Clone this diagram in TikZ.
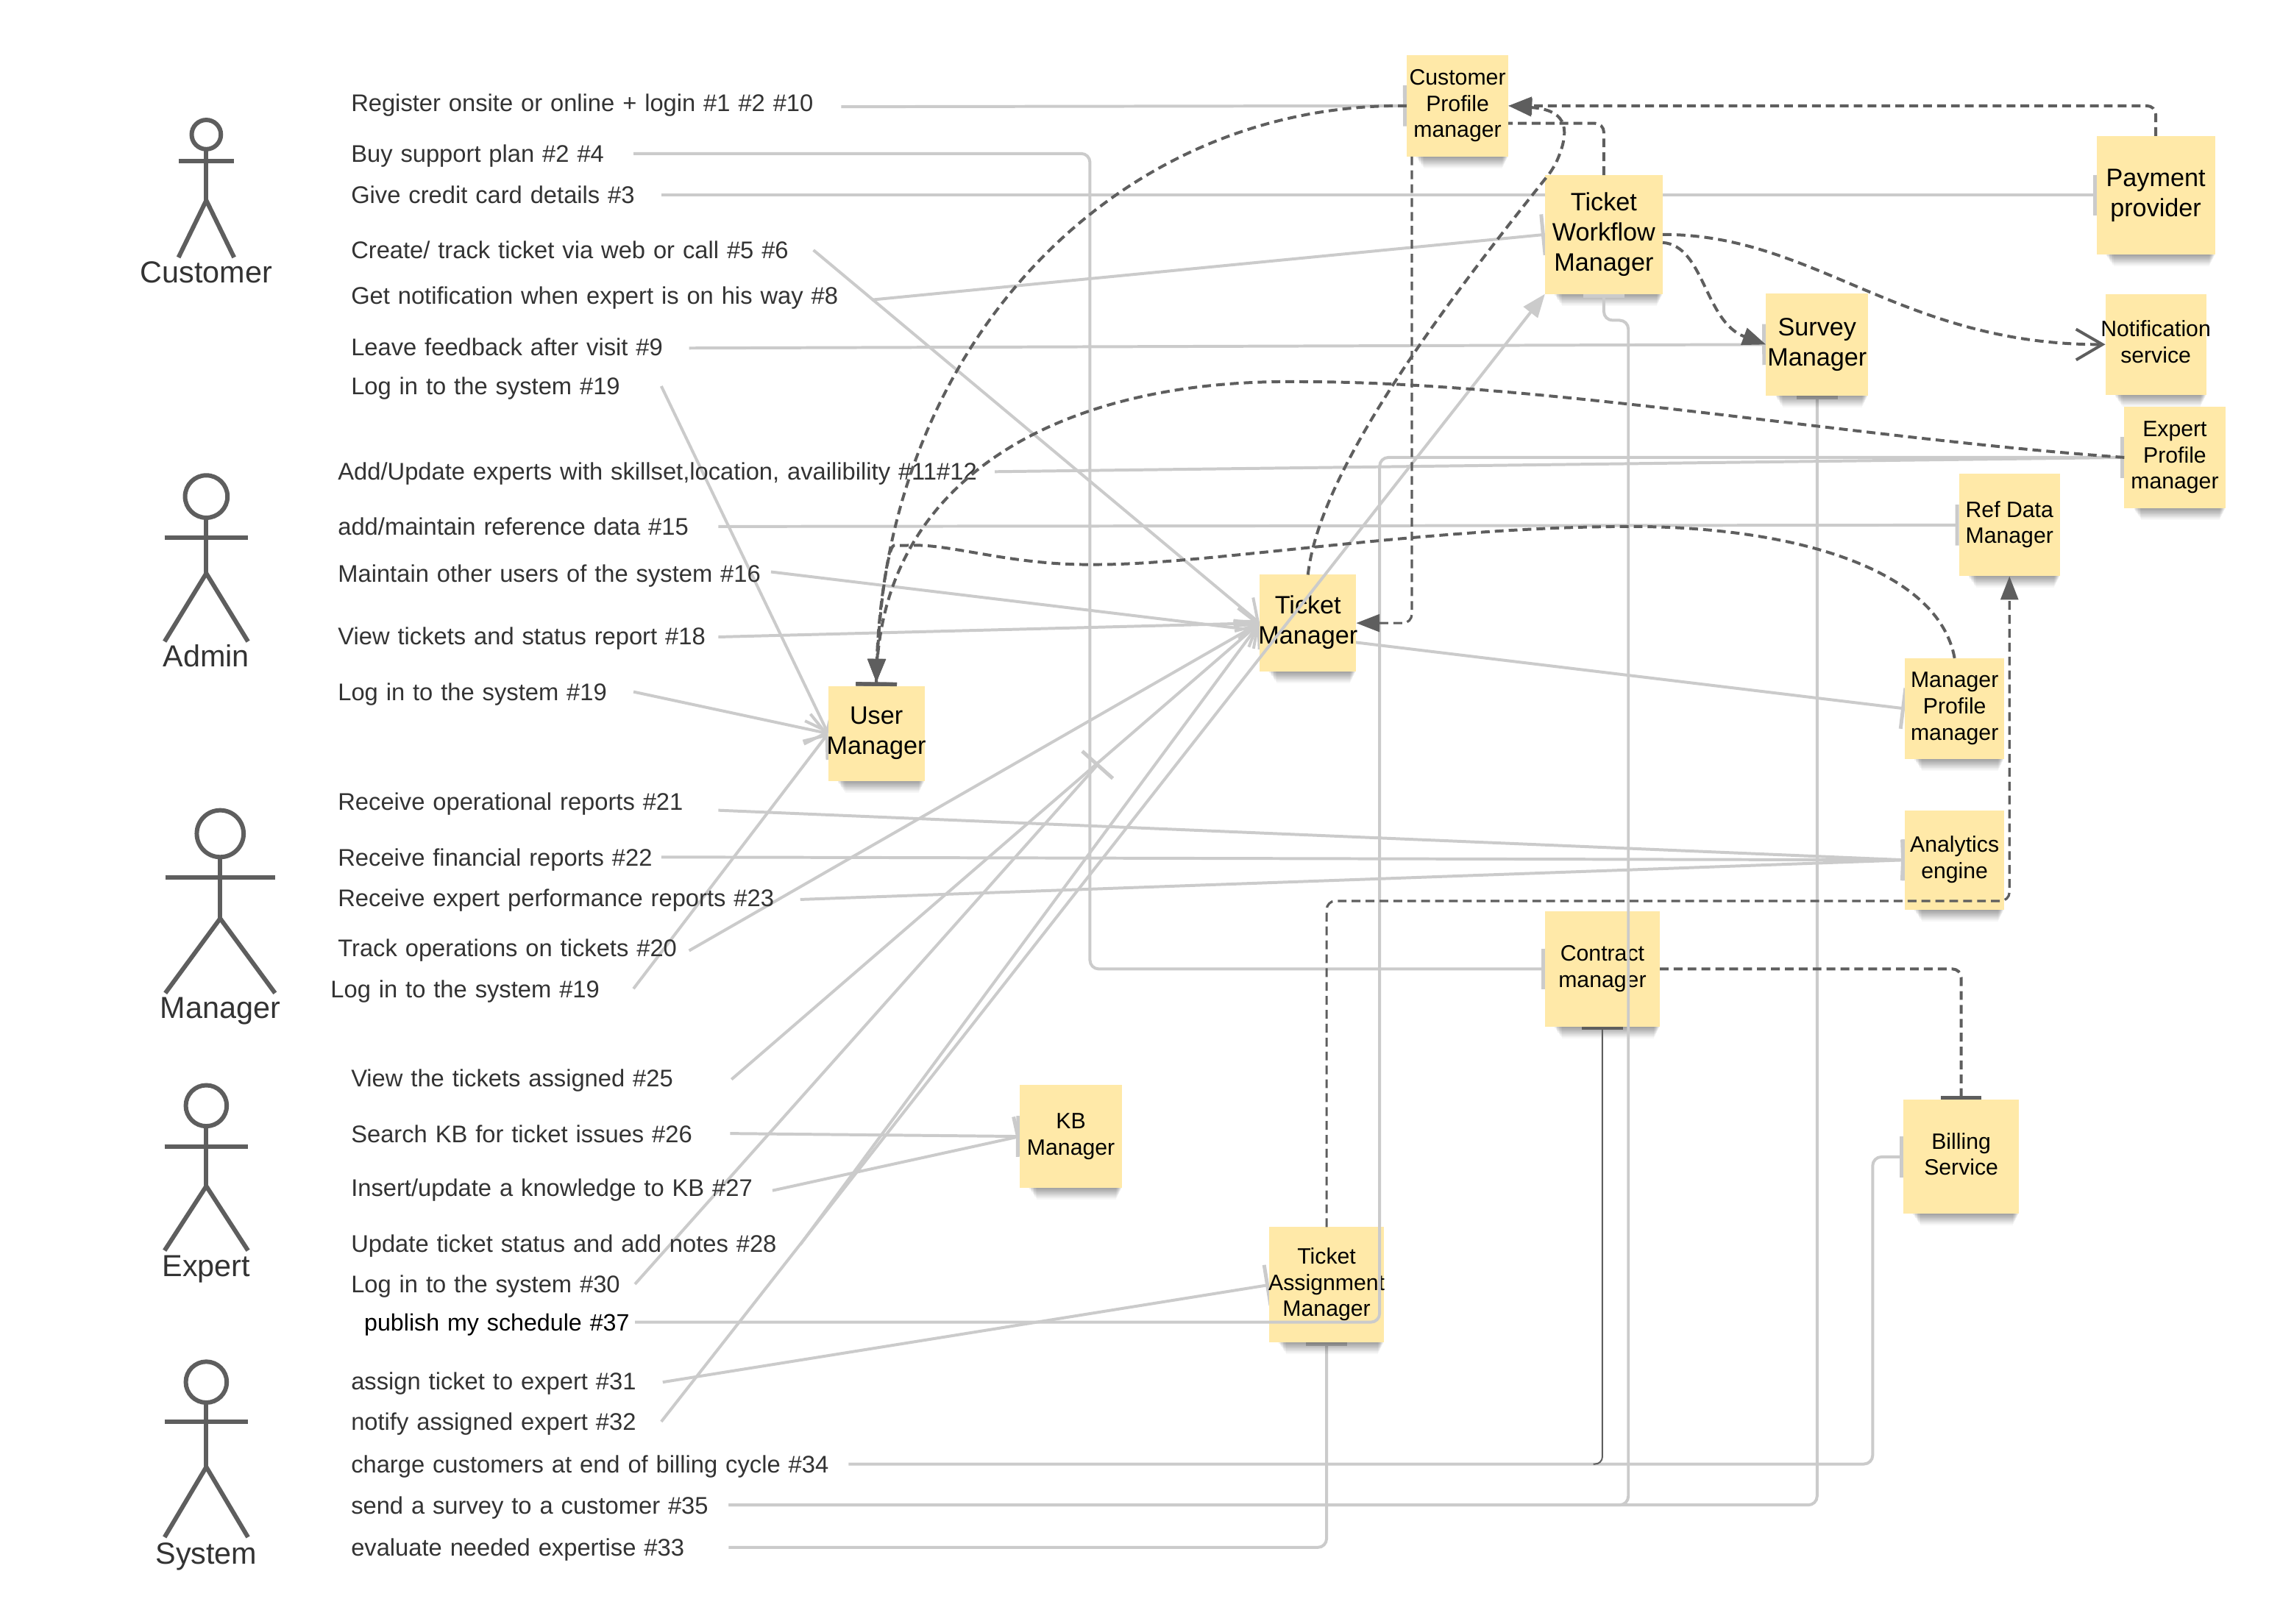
\documentclass[tikz,border=0pt]{standalone}
\usepackage{fontspec}
\setmainfont{Liberation Sans}
\usetikzlibrary{arrows.meta}
\pgfdeclarelayer{bgl}
\pgfsetlayers{bgl,main}
\definecolor{stickyc}{HTML}{FFE9A8}
\definecolor{greyc}{HTML}{CBCBCB}
\definecolor{darkc}{HTML}{5E5E5E}
\definecolor{textc}{HTML}{333333}
\tikzset{
  lab/.style={inner sep=0pt,outer sep=0pt,anchor=west,align=left,text=textc,font=\fontsize{16.45}{20}\selectfont},
  actorlabel/.style={inner sep=0pt,anchor=base,text=textc,font=\fontsize{20.8}{24}\selectfont},
  sticky/.style={fill=stickyc,inner sep=0pt,outer sep=0pt,text=black},
  bigtext/.style={font=\fontsize{17.2}{20.6}\selectfont},
  smalltext/.style={font=\fontsize{15.2}{18}\selectfont},
  figure/.style={draw=darkc,line width=3pt},
  gline/.style={draw=greyc,line width=2pt,rounded corners=6pt},
  dline/.style={draw=darkc,line width=2pt,rounded corners=6pt,dash pattern=on 6pt off 3.5pt},
  thindash/.style={draw=darkc,line width=1.6pt,rounded corners=6pt,dash pattern=on 6pt off 3.5pt},
  gbar/.style={-{Bar[width=28pt,line width=2.5pt]}},
  gopen/.style={-{Straight Barb[length=13pt,width=21pt,line width=2pt]}},
  gfill/.style={-{Triangle[length=16pt,width=12pt]}},
  dfill/.style={-{Triangle[length=16pt,width=12pt]}},
  dfillbar/.style={-{Triangle[length=16pt,width=12pt,sep=0pt] Bar[width=28pt,line width=2.5pt]}},
  dbar/.style={-{Bar[width=28pt,line width=2.5pt]}},
  dopen/.style={-{Straight Barb[length=18pt,width=21pt,line width=2pt]}},
}
% name, x1, y1, x2, y2, text style, text
\newcommand{\stk}[7]{%
  \foreach \d/\o in {8/.03,7/.04,6/.05,5/.05,4/.06,3/.06,2/.06,1/.06}{%
    \fill[black,opacity=\o] (#2+6+\d*.7,#5) rectangle (#4-\d*.5,#5+\d);
  }%
  \pgfmathsetmacro\stkw{#4-#2}\pgfmathsetmacro\stkh{#5-#3}%
  \node[sticky,#6,minimum width=\stkw pt,minimum height=\stkh pt] (#1) at ({(#2+#4)/2},{(#3+#5)/2})
    {\hbox to \stkw pt{\hss\begin{tabular}{@{}c@{}}#7\end{tabular}\hss}};%
}
% name, x, y, connector start x, connector start y, text
\newcommand{\tasklabel}[6]{%
  \pgfmathsetmacro\lw{#4-#2}\pgfmathsetmacro\lh{14+#3+6-#5}\pgfmathsetmacro\ld{14-(#3+6-#5)}%
  \node[lab,text width=\lw pt,text height=\lh pt,text depth=\ld pt] (#1) at (#2,#5) {\mbox{#6}};%
}
% cx, head cy, r, arm y, arm half width, hip y, foot y
\newcommand{\actorfig}[7]{%
  \draw[figure] (#1,#2) circle (#3);
  \draw[figure] (#1,#2+#3) -- (#1,#6);
  \draw[figure] (#1-#5,#4) -- (#1+#5,#4);
  \draw[figure] (#1-#5,#7) -- (#1,#6) -- (#1+#5,#7);
}
\begin{document}
\begin{tikzpicture}[x=1pt,y=-1pt]
\useasboundingbox (0,0) rectangle (1568,1109.9);
\begin{pgfonlayer}{bgl}
\fill[white] (0,0) rectangle (1568,1109.9);
\end{pgfonlayer}

% actors
\actorfig{141}{92}{10}{110}{19}{137}{176}
\node[actorlabel] (acust) at (141,193.5) {Customer};
\actorfig{141}{339.5}{14.5}{367.7}{28.5}{392}{438.6}
\node[actorlabel] (aadm) at (141,456) {Admin};
\actorfig{150.5}{570}{16}{600}{37.5}{628}{679}
\node[actorlabel] (amgr) at (150.5,696.3) {Manager};
\actorfig{141}{756}{14}{784}{28.5}{811}{855}
\node[actorlabel] (aexp) at (141,873) {Expert};
\actorfig{141}{945}{14}{972}{28.5}{1003}{1051}
\node[actorlabel] (asys) at (141,1069.3) {System};

% labels
\tasklabel{l1}{240}{70}{575}{73}{Register onsite or online + login \#1 \#2 \#10}
\tasklabel{l2}{240}{105}{433}{105}{Buy support plan \#2 \#4}
\tasklabel{l3}{240}{133}{452}{133.5}{Give credit card details \#3}
\tasklabel{l4}{240}{171}{556}{171}{Create/ track ticket via web or call \#5 \#6}
\tasklabel{l5}{240}{202}{596}{205}{Get notification when expert is on his way \#8}
\tasklabel{l6}{240}{237}{471}{238}{Leave feedback after visit \#9}
\tasklabel{l7}{240}{264}{452}{264}{Log in to the system \#19}
\tasklabel{l8}{231}{322}{680}{322.5}{Add/Update experts with skillset,location, availibility \#11\#12}
\tasklabel{l9}{231}{360}{491}{360}{add/maintain reference data \#15}
\tasklabel{l10}{231}{392}{527}{391}{Maintain other users of the system \#16}
\tasklabel{l11}{231}{435}{491}{435.5}{View tickets and status report \#18}
\tasklabel{l12}{231}{473}{433}{473}{Log in to the system \#19}
\tasklabel{l13}{231}{548}{491}{554}{Receive operational reports \#21}
\tasklabel{l14}{231}{586}{452}{586}{Receive financial reports \#22}
\tasklabel{l15}{231}{614}{547}{615}{Receive expert performance reports \#23}
\tasklabel{l16}{231}{648}{471}{650}{Track operations on tickets \#20}
\tasklabel{l17}{226}{676}{433}{676}{Log in to the system \#19}
\tasklabel{l18}{240}{737}{500}{738}{View the tickets assigned \#25}
\tasklabel{l19}{240}{775}{499}{775}{Search KB for ticket issues \#26}
\tasklabel{l20}{240}{812}{528}{814}{Insert/update a knowledge to KB \#27}
\tasklabel{l21}{240}{850}{547}{851}{Update ticket status and add notes \#28}
\tasklabel{l22}{240}{878}{434}{878}{Log in to the system \#30}
\tasklabel{l23}{249}{904}{434}{904}{\fontsize{16.2}{20}\selectfont\textcolor{black}{publish my schedule \#37}}
\tasklabel{l24}{240}{944}{453}{945}{assign ticket to expert \#31}
\tasklabel{l25}{240}{972}{452}{972}{notify assigned expert \#32}
\tasklabel{l26}{240}{1001}{580}{1001}{charge customers at end of billing cycle \#34}
\tasklabel{l27}{240}{1029}{498}{1029}{send a survey to a customer \#35}
\tasklabel{l28}{240}{1058}{498}{1058}{evaluate needed expertise \#33}

% sticky notes
\stk{cp}{961.5}{37.7}{1031}{107}{smalltext}{Customer\\Profile\\manager}
\stk{twm}{1056}{119.7}{1136.5}{201}{bigtext}{Ticket\\Workflow\\Manager}
\stk{pp}{1433}{93}{1514}{174}{bigtext}{Payment\\provider}
\stk{sm}{1207}{200.6}{1277}{270.5}{bigtext}{Survey\\Manager}
\stk{ns}{1439}{201}{1508}{270}{smalltext}{Notification\\service}
\stk{ep}{1452}{278}{1521}{347.5}{smalltext}{Expert\\Profile\\manager}
\stk{rd}{1339}{324}{1408}{394}{smalltext}{Ref Data\\Manager}
\stk{um}{566}{469}{632}{534}{bigtext}{User\\Manager}
\stk{tm}{861}{393}{927}{459}{bigtext}{Ticket\\Manager}
\stk{mp}{1302}{450}{1370}{519}{smalltext}{Manager\\Profile\\manager}
\stk{an}{1302}{554}{1370}{622}{smalltext}{Analytics\\engine}
\stk{cm}{1056}{623}{1134.5}{702}{smalltext}{Contract\\manager}
\stk{kb}{697}{742}{767}{812}{smalltext}{KB\\Manager}
\stk{ta}{867.5}{839}{946}{918}{smalltext}{Ticket\\Assignment\\Manager}
\stk{bs}{1301}{752}{1380}{830}{smalltext}{Billing\\Service}

% free bend points
\coordinate (buyc) at (745,400);
\coordinate (chargec) at (1280,900);
\coordinate (twmc) at (1113,219);
\coordinate (pubc) at (943,600);
\coordinate (contc) at (1089,1001);
\coordinate (xmark) at (751,522);
\coordinate (jc) at (1373.5,616);

\begin{pgfonlayer}{bgl}
\draw[gline,gbar] (l1.east) -- (cp.west);
\draw[gline,gbar] (l2.east) -| (buyc) |- (cm.west);
\draw[gline,gbar] (l3.east) -- (pp.west);
\draw[gline,gopen] (l4.east) -- (tm.west);
\draw[gline,gbar] (l5.east) -- (twm.west);
\draw[gline,gbar] (l6.east) -- (sm.west);
\draw[gline,gopen] (l7.east) -- (um.west);
\draw[gline,gbar] (l8.east) -- (ep.west);
\draw[gline,gbar] (l9.east) -- (rd.west);
\draw[gline,gbar] (l10.east) -- (mp.west);
\draw[gline,gopen] (l11.east) -- (tm.west);
\draw[gline,gopen] (l12.east) -- (um.west);
\draw[gline,gbar] (l13.east) -- (an.west);
\draw[gline,gbar] (l14.east) -- (an.west);
\draw[gline,gbar] (l15.east) -- (an.west);
\draw[gline,gopen] (l16.east) -- (tm.west);
\draw[gline,gopen] (l17.east) -- (um.west);
\draw[gline,gopen] (l18.east) -- (tm.west);
\draw[gline,gbar] (l19.east) -- (kb.west);
\draw[gline,gbar] (l20.east) -- (kb.west);
\draw[gline,gopen] (l21.east) -- (tm.west);
\draw[gline,gbar] (l22.east) -- (xmark);
\draw[gline,gbar] (l24.east) -- (ta.west);
\draw[gline,gbar] (l26.east) -| (chargec) |- (bs.west);
\draw[gline,gbar] (l27.east) -| (sm.south);
\draw[gline,gbar] (l28.east) -| (ta.south);
\end{pgfonlayer}

% lines that run over the notes
\draw[gline,gfill] (l25.east) -- (twm.south west);
\draw[gline,gbar] (l23.east) -| (pubc) |- (ep.west);
\draw[gline,gbar] (l27.east) -| (twmc) -| (twm.south);
\draw[draw=darkc,line width=1pt,rounded corners=5pt,{Bar[width=28pt,line width=2pt]}-] (cm.south) |- (contc);

% dashed dependencies
\draw[dline,dfillbar] (cp.west) .. controls (760,70) and (600,240) .. (um.north);
\draw[dline,dfillbar] (ep.west) .. controls (1270,300) and (1060,262) .. (890,261) .. controls (720,260) and (600,330) .. (um.north);
\draw[dline,dfillbar] (mp.north) .. controls (1325,390) and (1230,362) .. (1120,360) .. controls (980,360) and (830,385) .. (750,386) .. controls (690,386) and (650,372) .. (617,373) .. controls (607,373) and (600,420) .. (um.north);
\draw[dline,dfill] (tm.north) .. controls (902,320) and (990,205) .. (1062,115) .. controls (1075,85) and (1068,75) .. (cp.east);
\draw[dline,dfill] (pp.north) |- (cp.east);
\draw[dline] (twm.north) |- ([yshift=-12pt]cp.east);
\draw[thindash,dfill] ([xshift=-31.25pt]cp.south) |- (tm.east);
\draw[dline,dopen] (twm.east) .. controls (1240,160) and (1300,236) .. (ns.west);
\draw[dline,dfill] ([yshift=-5.5pt]twm.east) .. controls (1165,168) and (1165,220) .. (sm.west);
\draw[thindash,dfill] (ta.north) |- (jc) -- (rd.south);
\draw[dline,dbar] (cm.east) -| (bs.north);
\end{tikzpicture}
\end{document}
